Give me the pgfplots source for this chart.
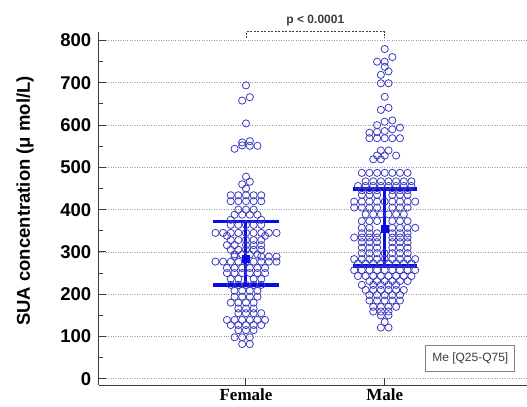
\documentclass[border=0pt]{standalone}
\usepackage{fontspec}
\setmainfont{Liberation Sans}
\newfontfamily\tnr{Liberation Serif}
\usepackage{pgfplots}
\usepackage{pgfplotstable}
\pgfplotsset{compat=1.18}
\definecolor{circ}{RGB}{60,60,190}
\definecolor{barc}{RGB}{10,10,230}
\definecolor{axc}{RGB}{60,60,60}

\pgfplotstableread{
k v
0 694
-1 658
1 666
0 604
-3 544
-1 552
-1 559
1 562
1 551
3 551
0 478
1 466
-1 460
0 450
-4 434
-2 434
0 434
2 434
4 434
-4 420
-2 420
0 420
2 420
4 420
-2 400
0 400
2 400
-3 388
-1 388
1 388
3 388
-4 376
4 376
-4 364
-2 364
0 364
2 364
4 364
-8 345
-6 345
-4 345
-2 345
0 345
2 345
4 345
6 345
8 345
-5 338
5 338
-4 328
-2 328
0 328
2 328
4 328
-5 316
-3 316
0 316
2 316
4 316
-4 305
-2 305
0 305
2 305
4 305
-3 294
-1 294
1 294
3 294
-3 289
4 289
6 289
8 289
-8 277
-6 277
-4 277
-2 277
0 277
2 277
4 277
6 277
8 277
-5 262
-3 262
-1 262
1 262
3 262
5 262
-5 250
-3 250
-1 250
1 250
3 250
5 250
-4 236
-2 236
2 236
4 236
-4 222
-2 222
0 222
2 222
4 222
-3 208
-1 208
1 208
3 208
-3 194
-1 194
1 194
3 194
-4 180
-2 180
0 180
2 180
-2 166
0 166
2 166
-2 155
0 155
2 155
4 155
-5 139
-3 139
-1 139
1 139
3 139
5 139
-4 127
-2 127
0 127
2 127
4 127
-2 115
0 115
2 115
-3 98
-1 98
1 98
-1 82
1 82
}\female

\pgfplotstableread{
k v
0 780
2 761
-2 750
0 750
0 738
1 727
-1 719
-1 699
1 699
0 667
-1 636
1 641
-2 600
0 608
2 611
-4 582
-2 584
0 586
2 590
4 594
-4 569
-2 569
0 569
2 569
4 569
-1 540
1 540
-2 528
0 528
3 528
-3 519
-1 519
-6 487
-4 487
-2 487
0 487
2 487
4 487
6 487
-5 467
-3 467
-1 467
1 467
3 467
5 467
7 467
-7 456
-5 456
-3 456
-1 456
1 456
3 456
5 456
7 456
-6 446
-4 446
-2 446
2 446
4 446
6 446
-6 435
-4 435
-2 435
2 435
4 435
6 435
-8 419
-6 419
-4 419
-2 419
0 419
2 419
4 419
6 419
8 419
-8 405
-6 405
-4 405
-2 405
2 405
4 405
6 405
-5 389
-3 389
-1 389
1 389
3 389
5 389
-6 373
-4 373
-2 373
2 373
4 373
6 373
-6 357
-4 357
2 357
4 357
6 357
8 357
-6 344
-4 344
-2 344
2 344
4 344
6 344
-8 334
-6 334
-4 334
-2 334
2 334
4 334
6 334
-6 323
-4 323
-2 323
2 323
4 323
6 323
-6 310
-4 310
-2 310
2 310
4 310
6 310
-6 297
-4 297
-2 297
0 297
2 297
4 297
6 297
-8 283
-6 283
-4 283
-2 283
0 283
2 283
4 283
6 283
8 283
-7 273
-5 273
-3 273
-1 273
1 273
3 273
5 273
7 273
-8 257
-6 257
-4 257
-2 257
0 257
2 257
4 257
6 257
8 257
-7 243
-5 243
-3 243
-1 243
1 243
3 243
5 243
7 243
-4 231
-2 231
0 231
2 231
4 231
6 231
-6 222
-3 222
-1 222
1 222
3 222
-5 210
-3 210
-1 210
1 210
3 210
5 210
-4 198
-2 198
0 198
2 198
4 198
-4 185
-2 185
0 185
2 185
4 185
-3 170
-1 170
1 170
3 170
-3 159
-1 159
1 159
-1 150
1 150
0 134
-1 121
1 121
}\male

\begin{document}
\begin{tikzpicture}
\begin{axis}[name=ax, scale only axis, width=428.3pt, height=353.6pt,
 xmin=-0.062, xmax=3.026, ymin=-15.6, ymax=821,
 axis lines=left, axis line style={-, axc, line width=1.4pt},
 xtick={1,2}, xticklabels={Female,Male},
 ytick={0,100,...,800}, minor ytick={50,150,...,750},
 tick align=inside, major tick length=7pt, minor tick length=4pt,
 tick style={axc, line width=1pt},
 ymajorgrids, grid style={gray!80, dotted, line width=0.7pt},
 /pgf/number format/assume math mode=true,
 yticklabel style={font=\fontsize{18.5}{21}\selectfont\bfseries, text=black, xshift=-4pt},
 xticklabel style={font=\tnr\fontsize{17}{20}\selectfont\bfseries, text=black},
 ylabel={SUA concentration (μ mol/L)},
 ylabel style={font=\fontsize{18.5}{21}\selectfont\bfseries, at={(axis description cs:0,0.5)}, anchor=center, yshift=73.7pt, xshift=7.5pt},
 clip=false,
]
\addplot[only marks, mark=o, mark size=3.6pt, mark options={draw=circ, line width=0.8pt}]
  table[x expr={1+0.0275*\thisrow{k}}, y=v] {\female};
\addplot[only marks, mark=o, mark size=3.6pt, mark options={draw=circ, line width=0.8pt}]
  table[x expr={2+0.0275*\thisrow{k}}, y=v] {\male};
% Female median & IQR
\addplot[barc, line width=3pt] coordinates {(1,222) (1,372)};
\addplot[barc, line width=3.3pt] coordinates {(0.765,372) (1.235,372)};
\addplot[barc, line width=3.3pt] coordinates {(0.765,222) (1.235,222)};
\addplot[only marks, mark=square*, mark size=3.5pt, barc] coordinates {(1,283)};
% Male median & IQR
\addplot[barc, line width=3pt] coordinates {(2,267) (2,449)};
\addplot[barc, line width=3.3pt] coordinates {(1.768,449) (2.232,449)};
\addplot[barc, line width=3.3pt] coordinates {(1.768,267) (2.232,267)};
\addplot[only marks, mark=square*, mark size=3.5pt, barc] coordinates {(2,354)};
% significance bracket
\addplot[axc, line width=0.6pt, dash pattern=on 2pt off 1.5pt] coordinates {(1,806) (1,821) (2,821) (2,806)};
\node[font=\fontsize{12}{14}\selectfont\bfseries, text=axc] at (axis cs:1.5,821) [yshift=11pt] {p < 0.0001};
\node[draw=gray, line width=0.8pt, fill=white, text=axc, font=\fontsize{12}{14}\selectfont, minimum width=89pt, minimum height=26pt, inner sep=0pt] at (rel axis cs:0.8676,0.0772) {Me [Q25-Q75]};
\end{axis}
\pgfresetboundingbox
\path ([shift={(-98.7pt,-20.7pt)}]ax.south west) rectangle ([shift={(0pt,31.7pt)}]ax.north east);
\end{tikzpicture}
\end{document}
